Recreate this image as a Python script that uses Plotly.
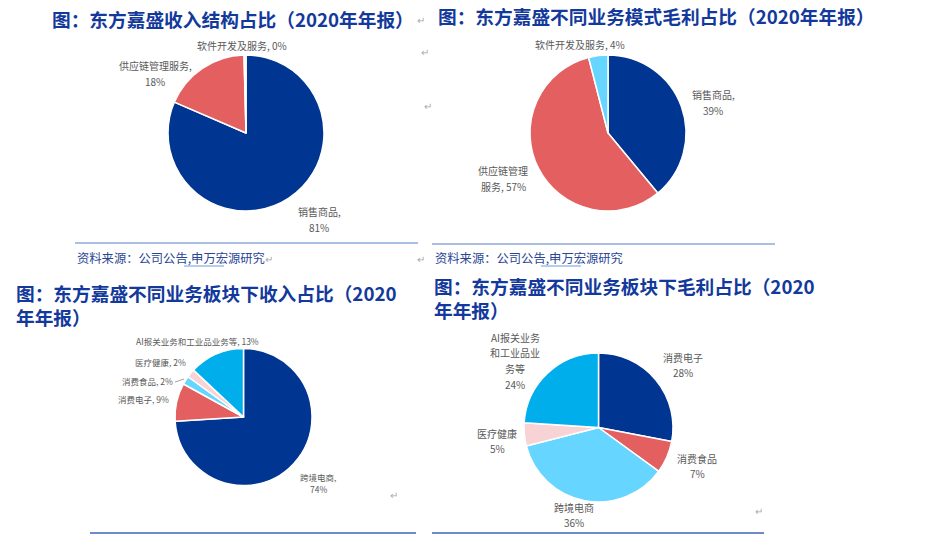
import plotly.graph_objects as go

W, H = 929, 536

# ---------------------------------------------------------
# DATA
# ---------------------------------------------------------
rev_labels = ['销售商品', '供应链管理服务', '软件开发及服务']
rev_values = [81, 18, 0.4]

gm_labels = ['销售商品', '供应链管理服务', '软件开发及服务']
gm_values = [39, 57, 4]

seg_rev_labels = ['跨境电商', '消费电子', '消费食品', '医疗健康', 'AI报关业务和工业品业务等']
seg_rev_values = [74, 9, 2, 2, 13]

seg_gm_labels = ['消费电子', '消费食品', '跨境电商', '医疗健康', 'AI报关业务和工业品业务等']
seg_gm_values = [28, 7, 36, 5, 24]

titles = [
    '图：东方嘉盛收入结构占比（2020年年报）',
    '图：东方嘉盛不同业务模式毛利占比（2020年年报）',
    '图：东方嘉盛不同业务板块下收入占比（2020<br>年年报）',
    '图：东方嘉盛不同业务板块下毛利占比（2020<br>年年报）',
]
source = '资料来源：公司公告,申万宏源研究'

# ---------------------------------------------------------
# HELPERS
# ---------------------------------------------------------
def px(x):
    return x / W

def py(y):
    return 1 - y / H

def dom(x0, x1, y0, y1):
    return dict(x=[px(x0), px(x1)], y=[py(y1), py(y0)])

BLUE = '#003591'
RED = '#E46060'
CYAN = '#66D5FF'
SKY = '#00AEEB'
PINK = '#F8D3D5'
TXT = '#595959'
TITLE = '#12399B'
FONT = 'Noto Sans CJK SC'

def pie(labels, values, colors, domain):
    return go.Pie(
        labels=labels, values=values, textinfo='none',
        sort=False, direction='clockwise',
        rotation=0, domain=domain, showlegend=False,
        marker=dict(colors=colors, line=dict(color='white', width=1.5)),
        hoverinfo='label+percent',
    )

# label texts, wrapped the way the report wraps them
t1 = [f'{l},<br>{round(v)}%' for l, v in zip(rev_labels[:2], rev_values[:2])]
t1.append(f'{rev_labels[2]}, {round(rev_values[2])}%')
t2 = [f'{gm_labels[0]},<br>{gm_values[0]}%',
      f'供应链管理<br>服务, {gm_values[1]}%',
      f'{gm_labels[2]}, {gm_values[2]}%']
t3 = [f'{seg_rev_labels[0]},<br>{seg_rev_values[0]}%'] + \
     [f'{l}, {v}%' for l, v in zip(seg_rev_labels[1:], seg_rev_values[1:])]
t4 = [f'{l}<br>{v}%' for l, v in zip(seg_gm_labels[:4], seg_gm_values[:4])]
t4.append(f'AI报关业务<br>和工业品业<br>务等<br>{seg_gm_values[4]}%')

fig = go.Figure()
fig.add_trace(pie(rev_labels, rev_values, [BLUE, RED, '#DDEEFF'],
                  dom(168, 324, 55, 211)))
fig.add_trace(pie(gm_labels, gm_values, [BLUE, RED, CYAN],
                  dom(530, 686, 55, 211)))
fig.add_trace(pie(seg_rev_labels, seg_rev_values, [BLUE, RED, CYAN, PINK, SKY],
                  dom(175, 312, 348, 486)))
fig.add_trace(pie(seg_gm_labels, seg_gm_values, [BLUE, RED, CYAN, PINK, SKY],
                  dom(524, 673, 353, 502)))

# ---------------------------------------------------------
# SLICE LABELS (placed where the report's chart put them)
# ---------------------------------------------------------
ann = []
label_sets = [
    (t1, [(319, 211), (155, 65), (242, 46)], 16, 10),
    (t2, [(713, 94), (503, 170), (580, 44)], 16.5, 10),
    (t3, [(318, 477), (143, 399), (147, 381), (160, 362), (197, 341)], 11.5, 8.5),
    (t4, [(683, 357), (697, 458), (574, 507), (497, 433), (515, 337)], 15.8, 10),
]
for texts, pos, step, size in label_sets:
    for text, (cx, y0) in zip(texts, pos):
        for i, line in enumerate(text.split('<br>')):
            ann.append(dict(text=line, x=px(cx), y=py(y0 + i * step),
                            xref='paper', yref='paper', xanchor='center', yanchor='middle',
                            showarrow=False, font=dict(size=size, color=TXT, family=FONT)))

# ---------------------------------------------------------
# TITLES, SOURCES, RULES
# ---------------------------------------------------------
for text, x, y in [(titles[0], 50, 18), (titles[1], 436, 15),
                   (titles[2], 14, 304), (titles[3], 432, 297)]:
    ann.append(dict(text=f'<b>{text}</b>', x=px(x), y=py(y), xref='paper', yref='paper',
                    xanchor='left', yanchor='middle', align='left', showarrow=False,
                    font=dict(size=18.7, color=TITLE, family=FONT)))
for x in [75, 433]:
    ann.append(dict(text=source, x=px(x), y=py(258), xref='paper', yref='paper',
                    xanchor='left', yanchor='middle', showarrow=False,
                    font=dict(size=12.3, color='#2B4596', family=FONT)))

# word-processor paragraph marks
for x, y in [(421, 10), (425, 42), (263, 258), (421, 258), (428, 96), (394, 504), (765, 520)]:
    ann.append(dict(text='↵', x=px(x), y=py(y), xref='paper', yref='paper',
                    showarrow=False, font=dict(size=10, color='#AAAAAA')))

shapes = []
for x0, x1, y, c in [(75, 418, 243, '#8FAADC'), (432, 775, 244, '#8FAADC'),
                     (90, 416, 533, '#3F63B8'), (432, 764, 533, '#3F63B8')]:
    shapes.append(dict(type='line', xref='paper', yref='paper',
                       x0=px(x0), x1=px(x1), y0=py(y), y1=py(y),
                       line=dict(color=c, width=1.5)))
for x0, x1 in [(184, 224), (541, 581)]:
    shapes.append(dict(type='line', xref='paper', yref='paper',
                       x0=px(x0), x1=px(x1), y0=py(266), y1=py(266),
                       line=dict(color='#6F9BE0', width=1)))
# leader line of the 消费食品 label
shapes.append(dict(type='line', xref='paper', yref='paper',
                   x0=px(175), x1=px(184), y0=py(382), y1=py(379),
                   line=dict(color='#8C8C8C', width=0.8)))

fig.update_layout(
    width=W, height=H,
    margin=dict(l=0, r=0, t=0, b=0),
    paper_bgcolor='white', plot_bgcolor='white',
    font=dict(family=FONT),
    annotations=ann, shapes=shapes,
)

fig.write_html('out.html', config={'displayModeBar': False},
               post_script="document.body.style.margin='0';")
